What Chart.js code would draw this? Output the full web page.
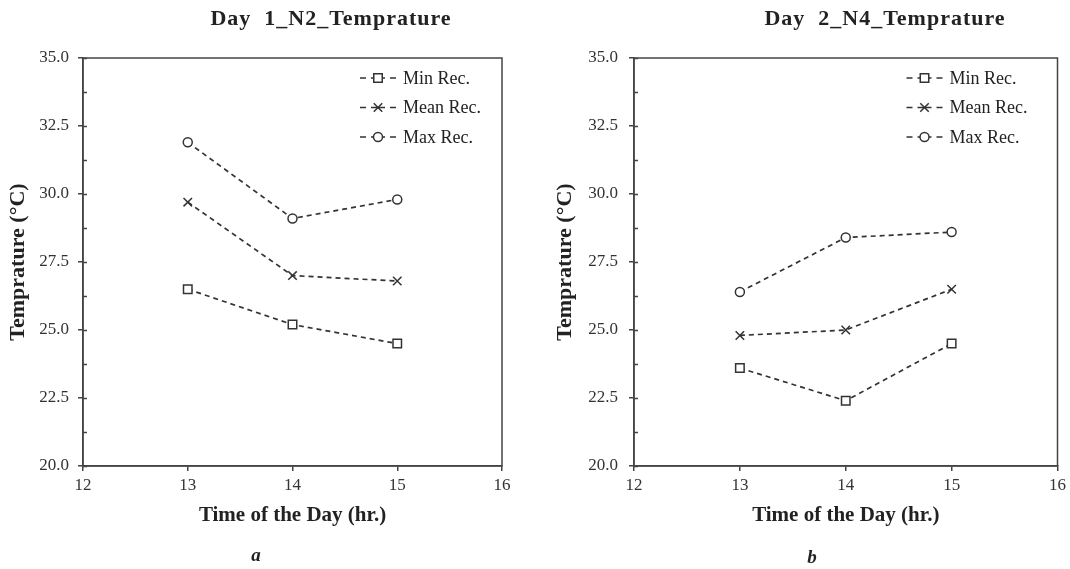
<!DOCTYPE html>
<html>
<head>
<meta charset="utf-8">
<script src="https://cdn.jsdelivr.net/npm/chart.js@4.4.1/dist/chart.umd.min.js"></script>
<style>
  body { margin: 0; background: #fff; }
  #wrap { position: relative; width: 1070px; height: 569px; overflow: hidden; font-family: "Liberation Serif", "Times New Roman", serif; color: #222; }
  canvas { position: absolute; top: 0; }
  .titulo { position: absolute; top: 5px; width: 400px; text-align: center; font-size: 22px; font-weight: bold; line-height: 26px; letter-spacing: 1px; }
  .legenda { position: absolute; width: 100px; text-align: center; font-size: 19px; font-weight: bold; font-style: italic; line-height: 22px; }
</style>
</head>
<body>
<div id="wrap">
  <canvas id="grafico-dia1" width="535" height="569" style="left:0"></canvas>
  <canvas id="grafico-dia2" width="535" height="569" style="left:535px"></canvas>
  <div class="titulo" style="left:131px">Day&nbsp; 1_N2_Temprature</div>
  <div class="titulo" style="left:685px">Day&nbsp; 2_N4_Temprature</div>
  <div class="legenda" style="left:206px; top:544px">a</div>
  <div class="legenda" style="left:762px; top:546px">b</div>
</div>
<script>
const horas = [13, 14, 15];
const nomesSeries = ["Min Rec.", "Mean Rec.", "Max Rec."];

const dia1Min = [26.5, 25.2, 24.5];
const dia1Media = [29.7, 27.0, 26.8];
const dia1Max = [31.9, 29.1, 29.8];

const dia2Min = [23.6, 22.4, 24.5];
const dia2Media = [24.8, 25.0, 26.5];
const dia2Max = [26.4, 28.4, 28.6];

const xMin = 12, xMax = 16, xPasso = 1;
const yMin = 20, yMax = 35, yPasso = 2.5;

const FONTE = '"Liberation Serif", "Times New Roman", serif';
const COR = "#333";

// moldura + ticks internos do eixo y
const moldura = {
  id: "moldura",
  afterDraw(chart) {
    const { ctx, chartArea: a, scales: { y } } = chart;
    ctx.save();
    ctx.strokeStyle = "#444";
    ctx.lineWidth = 1.5;
    ctx.strokeRect(a.left, a.top, a.width, a.height);
    ctx.beginPath();
    for (let v = yMin; v <= yMax; v += yPasso / 2) {
      const py = Math.round(y.getPixelForValue(v)) + 0.5;
      ctx.moveTo(a.left, py);
      ctx.lineTo(a.left + 4, py);
    }
    ctx.stroke();
    ctx.restore();
  }
};

// legenda dentro da area do grafico
const legendaInterna = {
  id: "legendaInterna",
  afterDraw(chart, args, opts) {
    const { ctx, chartArea: a } = chart;
    const inicio = a.right + opts.x;
    ctx.save();
    chart.data.datasets.forEach((ds, i) => {
      const yy = a.top + opts.top + i * opts.gap;
      ctx.strokeStyle = COR;
      ctx.lineWidth = 1.5;
      ctx.setLineDash([]);
      ctx.beginPath();
      ctx.moveTo(inicio, yy); ctx.lineTo(inicio + 6, yy);
      ctx.moveTo(inicio + 11, yy); ctx.lineTo(inicio + 25, yy);
      ctx.moveTo(inicio + 30, yy); ctx.lineTo(inicio + 36, yy);
      ctx.stroke();
      ctx.fillStyle = "#fff";
      Chart.helpers.drawPoint(ctx, {
        pointStyle: ds.pointStyle, rotation: 0, radius: ds.pointRadius, borderWidth: 1.5
      }, inicio + 18, yy);
      ctx.fillStyle = "#222";
      ctx.font = "18px " + FONTE;
      ctx.textBaseline = "middle";
      ctx.textAlign = "left";
      ctx.fillText(ds.label, inicio + 43, yy + 1);
    });
    ctx.restore();
  }
};

function serie(label, valores, estilo, raio) {
  return {
    label,
    data: horas.map((h, i) => ({ x: h, y: valores[i] })),
    borderColor: COR,
    borderWidth: 1.7,
    borderDash: [5, 4],
    pointStyle: estilo,
    pointRadius: raio,
    pointHoverRadius: raio,
    pointBorderWidth: 1.5,
    pointBorderColor: COR,
    pointBackgroundColor: "#fff",
    tension: 0,
    fill: false,
  };
}

function criarGrafico(id, minimo, media, maximo, cfg) {
  return new Chart(document.getElementById(id), {
    type: "line",
    data: {
      datasets: [
        serie(nomesSeries[0], minimo, "rect", 6),
        serie(nomesSeries[1], media, "crossRot", 6),
        serie(nomesSeries[2], maximo, "circle", 4.5),
      ],
    },
    options: {
      responsive: false,
      animation: false,
      layout: { padding: { left: 0, top: 58, right: cfg.direita, bottom: 0 } },
      plugins: {
        legend: { display: false },
        title: { display: false },
        tooltip: { enabled: false },
        legendaInterna: { x: cfg.legendaX, top: 20, gap: 29.5 },
      },
      scales: {
        x: {
          type: "linear",
          min: xMin, max: xMax,
          afterFit: (s) => { s.height = 103; },
          ticks: { stepSize: xPasso, color: COR, padding: 4, font: { family: FONTE, size: 17 } },
          grid: { drawOnChartArea: false, tickLength: 5, color: "#444", lineWidth: 1.5 },
          border: { display: true, color: "#444", width: 1.5 },
          title: {
            display: true,
            text: "Time of the Day (hr.)",
            color: "#222",
            font: { family: FONTE, size: 21, weight: "bold" },
            padding: { top: 0, bottom: 41 },
          },
        },
        y: {
          min: yMin, max: yMax,
          afterFit: (s) => { s.width = cfg.largY; },
          ticks: {
            stepSize: yPasso, color: COR, padding: cfg.padTick,
            font: { family: FONTE, size: 17 },
            callback: (v) => Number(v).toFixed(1),
          },
          grid: { drawOnChartArea: false, tickLength: 5, color: "#444", lineWidth: 1.5 },
          border: { display: true, color: "#444", width: 1.5 },
          title: {
            display: true,
            text: "Temprature (°C)",
            color: "#222",
            font: { family: FONTE, size: 22, weight: "bold" },
            padding: { top: cfg.padTitulo, bottom: 0 },
          },
        },
      },
    },
    plugins: [moldura, legendaInterna],
  });
}

criarGrafico("grafico-dia1", dia1Min, dia1Media, dia1Max,
  { direita: 33, largY: 83, padTick: 9, padTitulo: 5, legendaX: -142 });
criarGrafico("grafico-dia2", dia2Min, dia2Media, dia2Max,
  { direita: 11, largY: 99, padTick: 11, padTitulo: 17, legendaX: -151 });
</script>
</body>
</html>
